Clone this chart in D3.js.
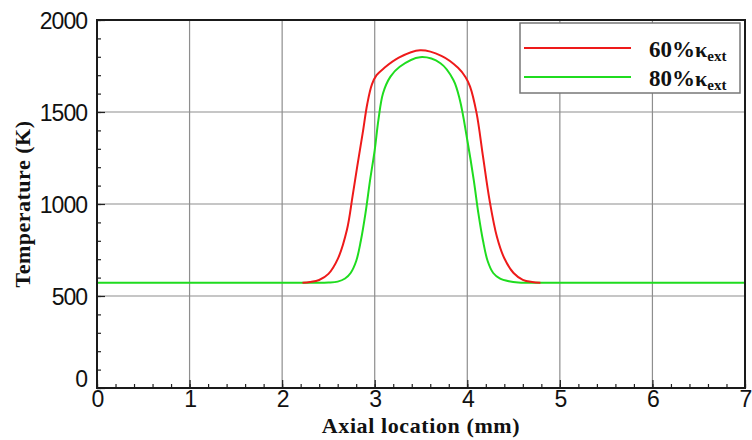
<!doctype html>
<html lang="en">
<head>
    <meta charset="UTF-8">
    <title>Temperature vs axial location</title>
    <script src="https://cdn.jsdelivr.net/npm/d3@7"></script>
    <style>
        body { margin: 0; background: #fff; }
        svg { display: block; }
        .tick-lbl { font-family: "Liberation Sans", Arial, sans-serif; font-size: 23px; fill: #111; letter-spacing: -1px; }
        .ttl { font-family: "Liberation Serif", "Times New Roman", serif; font-weight: bold; font-size: 22px; fill: #111; }
    </style>
</head>
<body>
<script>
    // series: axial location (mm) and temperature (K)
    var xRed = [2.22, 2.3, 2.4, 2.5, 2.6, 2.7, 2.76, 2.81, 2.87, 2.92, 2.97, 3.02, 3.10, 3.26, 3.49, 3.72, 3.90, 3.98, 4.03, 4.10, 4.17, 4.24, 4.32, 4.40, 4.50, 4.60, 4.70, 4.79];
    var tRed = [572, 576, 587, 620, 700, 860, 1040, 1200, 1385, 1545, 1650, 1700, 1738, 1795, 1835, 1805, 1740, 1690, 1638, 1495, 1257, 1022, 822, 705, 625, 588, 576, 572];

    var xGreen = [0, 2.3, 2.5, 2.6, 2.68, 2.74, 2.80, 2.85, 2.90, 2.95, 3.00, 3.04, 3.09, 3.17, 3.27, 3.49, 3.71, 3.85, 3.92, 4.00, 4.07, 4.12, 4.17, 4.22, 4.28, 4.35, 4.45, 4.55, 4.7, 7];
    var tGreen = [572, 572, 573, 578, 595, 625, 690, 800, 949, 1130, 1293, 1457, 1602, 1692, 1746, 1798, 1765, 1674, 1565, 1348, 1130, 949, 800, 690, 625, 596, 580, 573, 572, 572];

    var xTicks = [0, 1, 2, 3, 4, 5, 6, 7];
    var yTicks = [0, 500, 1000, 1500, 2000];
    var legendNames = ["60%", "80%"];
    var xTitle = "Axial location (mm)";
    var yTitle = "Temperature (K)";

    var W = 752, H = 440;
    var pL = 97, pT = 20, pR = 745, pB = 388;

    var svg = d3.select("body").append("svg")
        .attr("width", W)
        .attr("height", H);

    var x = d3.scaleLinear().domain([0, 7]).range([pL, pR]);
    var y = d3.scaleLinear().domain([0, 2000]).range([pB, pT]);

    // grid
    svg.append("g").selectAll("line").data(xTicks.slice(1, -1)).enter().append("line")
        .attr("x1", function (d) { return x(d); }).attr("x2", function (d) { return x(d); })
        .attr("y1", pT).attr("y2", pB)
        .attr("stroke", "#8e8e8e").attr("stroke-width", 1.2);
    svg.append("g").selectAll("line").data(yTicks.slice(1, -1)).enter().append("line")
        .attr("y1", function (d) { return y(d); }).attr("y2", function (d) { return y(d); })
        .attr("x1", pL).attr("x2", pR)
        .attr("stroke", "#8e8e8e").attr("stroke-width", 1.2);

    // minor ticks (inward)
    var xMinor = d3.axisBottom(x).ticks(35).tickSizeInner(-4).tickSizeOuter(0).tickFormat("");
    var yMinor = d3.axisLeft(y).ticks(20).tickSizeInner(-4).tickSizeOuter(0).tickFormat("");
    svg.append("g").attr("transform", "translate(0," + pB + ")").call(xMinor);
    svg.append("g").attr("transform", "translate(" + pL + ",0)").call(yMinor);

    // major ticks + labels
    var xAxis = d3.axisBottom(x).tickValues(xTicks).tickFormat(d3.format("d"))
        .tickSizeInner(-8).tickSizeOuter(0).tickPadding(2);
    var yAxis = d3.axisLeft(y).tickValues(yTicks).tickFormat(d3.format("d"))
        .tickSizeInner(-8).tickSizeOuter(0).tickPadding(10);
    var gx = svg.append("g").attr("transform", "translate(0," + pB + ")").call(xAxis);
    var gy = svg.append("g").attr("transform", "translate(" + pL + ",0)").call(yAxis);

    svg.selectAll(".domain").remove();
    svg.selectAll(".tick line").attr("stroke", "#222").attr("stroke-width", 1.2);
    gx.selectAll("text").attr("class", "tick-lbl").attr("font-size", null).attr("font-family", null).attr("dy", "0.72em");
    gy.selectAll("text").attr("class", "tick-lbl").attr("font-size", null).attr("font-family", null)
        .attr("dy", function (d) { return d === 0 ? "-0.05em" : "0.36em"; });

    // curves
    var line = d3.line()
        .x(function (d) { return x(d[0]); })
        .y(function (d) { return y(d[1]); })
        .curve(d3.curveCatmullRom.alpha(0.5));

    var greenPts = d3.zip(xGreen, tGreen);
    var redPts = d3.zip(xRed, tRed);

    svg.append("path").datum(greenPts).attr("d", line)
        .attr("fill", "none").attr("stroke", "#1fdc1f").attr("stroke-width", 2);
    svg.append("path").datum(redPts).attr("d", line)
        .attr("fill", "none").attr("stroke", "#ee1a1a").attr("stroke-width", 2);

    // frame
    svg.append("rect")
        .attr("x", pL).attr("y", pT)
        .attr("width", pR - pL).attr("height", pB - pT)
        .attr("fill", "none").attr("stroke", "#1a1a1a").attr("stroke-width", 2);

    // legend
    var lg = svg.append("g");
    lg.append("rect")
        .attr("x", 520).attr("y", 23).attr("width", 220).attr("height", 70)
        .attr("fill", "#fff").attr("stroke", "#777").attr("stroke-width", 1.5);
    var colors = ["#ee1a1a", "#1fdc1f"];
    legendNames.forEach(function (name, i) {
        var cy = 48 + i * 29;
        lg.append("line")
            .attr("x1", 524).attr("x2", 631).attr("y1", cy).attr("y2", cy)
            .attr("stroke", colors[i]).attr("stroke-width", 2);
        var t = lg.append("text")
            .attr("x", 649).attr("y", cy + 9)
            .attr("font-family", "'Liberation Serif', 'Times New Roman', serif")
            .attr("font-weight", "bold")
            .attr("font-size", 23)
            .attr("fill", "#111");
        t.append("tspan").text(name);
        t.append("tspan").attr("font-size", 22).text("\u03ba");
        t.append("tspan").attr("font-size", 15).attr("dy", 4).text("ext");
    });

    // axis titles
    svg.append("text")
        .attr("class", "ttl")
        .attr("x", (pL + pR) / 2)
        .attr("y", 433)
        .attr("text-anchor", "middle")
        .style("letter-spacing", "0.6px")
        .text(xTitle);

    svg.append("text")
        .attr("class", "ttl")
        .attr("transform", "translate(30," + y(1000) + ") rotate(-90)")
        .attr("text-anchor", "middle")
        .style("letter-spacing", "0.5px")
        .text(yTitle);
</script>
</body>
</html>
